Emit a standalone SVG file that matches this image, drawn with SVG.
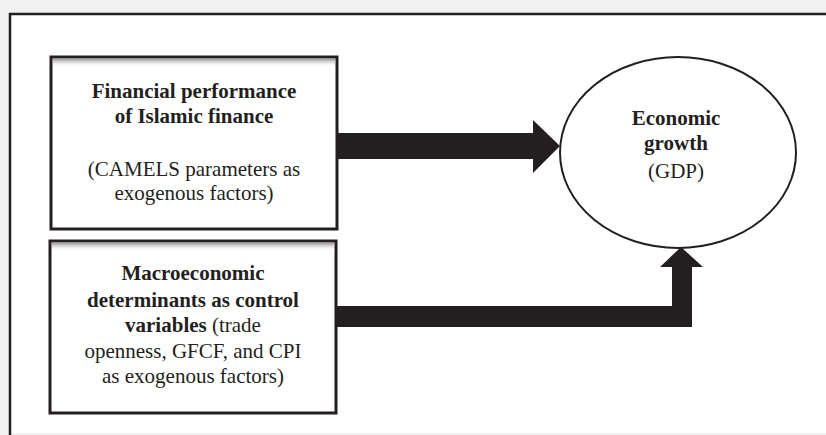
<svg xmlns="http://www.w3.org/2000/svg" width="826" height="435" viewBox="0 0 826 435">
<defs>
<style>
.t{font-family:"Liberation Serif","Times New Roman",serif;font-size:21px;fill:#231f20;text-anchor:middle}
.b{font-weight:bold}
.box{fill:#fff;stroke:#231f20;stroke-width:3}
.ar{fill:#231f20}
</style>
<linearGradient id="sh" x1="0" y1="0" x2="0" y2="1">
<stop offset="0" stop-color="#9a9a9a"/>
<stop offset="1" stop-color="#fff" stop-opacity="0"/>
</linearGradient>
</defs>
<rect x="0" y="0" width="826" height="435" fill="#f1f1f1"/>
<rect x="10" y="14" width="816" height="419" fill="#fff"/>
<path d="M10,435 V14 H826" fill="none" stroke="#231f20" stroke-width="2.5"/>
<g id="connectors">
<path class="ar" d="M337,133 H533 V120 L560,146 L533,173 V159 H337 Z"/>
<path class="ar" d="M337,306 H672 V267 H660 L681,247 L703,267 H692 V327 H337 Z"/>
</g>
<g id="n1">
<rect class="box" x="51" y="57" width="286" height="172"/>
<rect x="53" y="59" width="282" height="8" fill="url(#sh)"/>
<text class="t b" x="194" y="98">Financial performance</text>
<text class="t b" x="194" y="123">of Islamic finance</text>
<text class="t" x="194" y="176">(CAMELS parameters as</text>
<text class="t" x="194" y="200">exogenous factors)</text>
</g>
<g id="n2">
<rect class="box" x="50" y="241" width="286" height="172"/>
<rect x="52" y="243" width="282" height="8" fill="url(#sh)"/>
<text class="t b" x="193" y="280">Macroeconomic</text>
<text class="t b" x="193" y="307">determinants as control</text>
<text class="t" x="193" y="332"><tspan class="b">variables</tspan> (trade</text>
<text class="t" x="193" y="358">openness, GFCF, and CPI</text>
<text class="t" x="193" y="383">as exogenous factors)</text>
</g>
<g id="n3">
<ellipse cx="678" cy="152.5" rx="118" ry="95.5" fill="#fff" stroke="#231f20" stroke-width="2"/>
<text class="t b" x="676" y="125">Economic</text>
<text class="t b" x="676" y="150">growth</text>
<text class="t" x="676" y="178">(GDP)</text>
</g>
</svg>
